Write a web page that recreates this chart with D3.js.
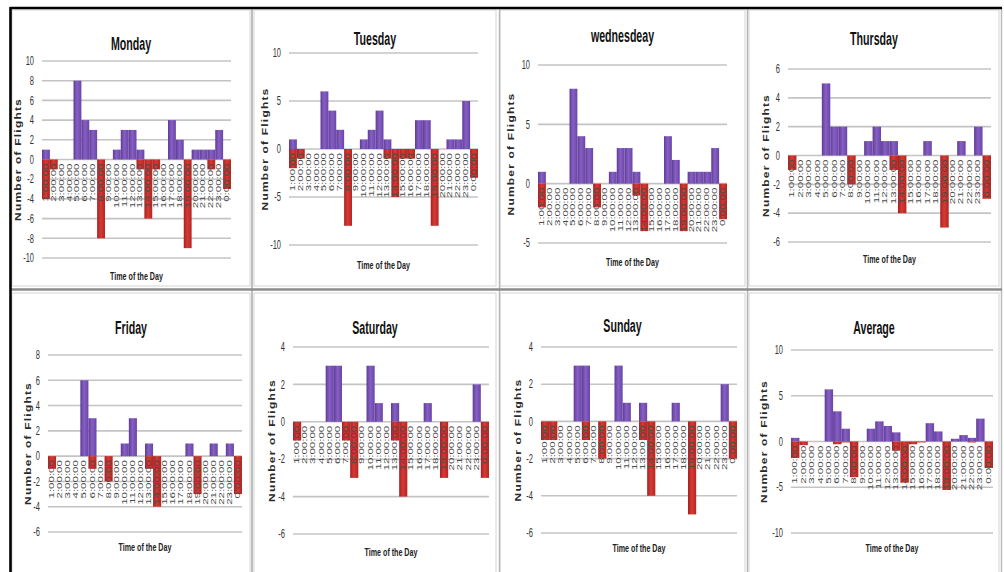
<!DOCTYPE html>
<html>
<head>
<meta charset="utf-8">
<script src="https://cdn.jsdelivr.net/npm/d3@7"></script>
<style>
body { margin: 0; background: #fff; }
svg text { font-family: "Liberation Sans", Arial, sans-serif; }
</style>
</head>
<body>
<svg id="chart" width="1004" height="572"></svg>
<script>
// hours of the day, as on the x axis
var hours = ["1:00:00", "2:00:00", "3:00:00", "4:00:00", "5:00:00", "6:00:00", "7:00:00", "8:00:00",
    "9:00:00", "10:00:00", "11:00:00", "12:00:00", "13:00:00", "14:00:00", "15:00:00", "16:00:00",
    "17:00:00", "18:00:00", "19:00:00", "20:00:00", "21:00:00", "22:00:00", "23:00:00", "0:00:00"];

var dayNames = ["Monday", "Tuesday", "wednesdeay", "Thursday", "Friday", "Saturday", "Sunday", "Average"];

// purple (positive) and red (negative) series per day
var mondayUp     = [1, 0, 0, 0, 8, 4, 3, 0, 0, 1, 3, 3, 1, 0, 0, 0, 4, 2, 0, 1, 1, 1, 3, 0];
var mondayDown   = [-4, -1, 0, 0, 0, 0, 0, -8, 0, 0, 0, 0, -1, -6, -1, 0, 0, 0, -9, 0, 0, -1, 0, -3];
var tuesdayUp    = [1, 0, 0, 0, 6, 4, 2, 0, 0, 1, 2, 4, 1, 0, 0, 0, 3, 3, 0, 0, 1, 1, 5, 0];
var tuesdayDown  = [-2, -1, 0, 0, 0, 0, 0, -8, 0, 0, 0, 0, -1, -5, -1, -1, 0, 0, -8, 0, 0, 0, 0, -3];
var wednesdayUp  = [1, 0, 0, 0, 8, 4, 3, 0, 0, 1, 3, 3, 1, 0, 0, 0, 4, 2, 0, 1, 1, 1, 3, 0];
var wednesdayDown = [-2, 0, 0, 0, 0, 0, 0, -2, 0, 0, 0, 0, -1, -4, 0, 0, 0, 0, -4, 0, 0, 0, 0, -3];
var thursdayUp   = [0, 0, 0, 0, 5, 2, 2, 0, 0, 1, 2, 1, 1, 0, 0, 0, 1, 0, 0, 0, 1, 0, 2, 0];
var thursdayDown = [-1, 0, 0, 0, 0, 0, 0, -2, 0, 0, 0, 0, -1, -4, 0, 0, 0, 0, -5, 0, 0, 0, 0, -3];
var fridayUp     = [0, 0, 0, 0, 6, 3, 0, 0, 0, 1, 3, 0, 1, 0, 0, 0, 0, 1, 0, 0, 1, 0, 1, 0];
var fridayDown   = [-1, 0, 0, 0, 0, -1, 0, -2, 0, 0, 0, 0, -1, -4, 0, 0, 0, 0, -3, 0, 0, 0, 0, -3];
var saturdayUp   = [0, 0, 0, 0, 3, 3, 0, 0, 0, 3, 1, 0, 1, 0, 0, 0, 1, 0, 0, 0, 0, 0, 2, 0];
var saturdayDown = [-1, 0, 0, 0, 0, 0, -1, -3, 0, 0, 0, 0, -1, -4, 0, 0, 0, 0, -3, 0, 0, 0, 0, -3];
var sundayUp     = [0, 0, 0, 0, 3, 3, 0, 0, 0, 3, 1, 0, 1, 0, 0, 0, 1, 0, 0, 0, 0, 0, 2, 0];
var sundayDown   = [-1, -1, 0, 0, 0, -1, 0, -2, 0, 0, 0, 0, -1, -4, 0, 0, 0, 0, -5, 0, 0, 0, 0, -2];
var averageUp    = [0.4, 0, 0, 0, 5.7, 3.3, 1.4, 0, 0, 1.4, 2.2, 1.7, 1, 0, 0, 0, 2, 1.1, 0, 0.3, 0.7, 0.4, 2.5, 0];
var averageDown  = [-1.8, -0.4, 0, 0, 0, -0.3, -0.1, -3.9, 0, 0, 0, 0, -1, -4.5, -0.3, -0.1, 0, 0, -5.3, 0, 0, -0.1, 0, -2.9];

// y tick labels per chart
var mondayTicks    = [-10, -8, -6, -4, -2, 0, 2, 4, 6, 8, 10];
var tuesdayTicks   = [-10, -5, 0, 5, 10];
var wednesdayTicks = [-5, 0, 5, 10];
var thursdayTicks  = [-6, -4, -2, 0, 2, 4, 6];
var fridayTicks    = [-6, -4, -2, 0, 2, 4, 6, 8];
var saturdayTicks  = [-6, -4, -2, 0, 2, 4];
var sundayTicks    = [-6, -4, -2, 0, 2, 4];
var averageTicks   = [-10, -5, 0, 5, 10];

var upSeries   = [mondayUp, tuesdayUp, wednesdayUp, thursdayUp, fridayUp, saturdayUp, sundayUp, averageUp];
var downSeries = [mondayDown, tuesdayDown, wednesdayDown, thursdayDown, fridayDown, saturdayDown, sundayDown, averageDown];
var tickSets   = [mondayTicks, tuesdayTicks, wednesdayTicks, thursdayTicks, fridayTicks, saturdayTicks, sundayTicks, averageTicks];

// where each small chart sits on the page
var boxes = [
    {cx0: 10,  cx1: 252,  x0: 42,  x1: 231, top: 61,  bottom: 258, titleY: 43,  xTitleY: 276, yTitleDx: 24},
    {cx0: 252, cx1: 498,  x0: 289, x1: 478, top: 53,  bottom: 245, titleY: 38,  xTitleY: 265, yTitleDx: 24},
    {cx0: 498, cx1: 747,  x0: 538, x1: 727, top: 65,  bottom: 243, titleY: 35,  xTitleY: 262, yTitleDx: 27},
    {cx0: 747, cx1: 1001, x0: 788, x1: 991, top: 69,  bottom: 242, titleY: 38,  xTitleY: 259, yTitleDx: 22},
    {cx0: 10,  cx1: 252,  x0: 48,  x1: 242, top: 355, bottom: 532, titleY: 327, xTitleY: 547, yTitleDx: 20},
    {cx0: 252, cx1: 498,  x0: 293, x1: 489, top: 347, bottom: 534, titleY: 327, xTitleY: 552, yTitleDx: 21},
    {cx0: 498, cx1: 747,  x0: 541, x1: 737, top: 347, bottom: 533, titleY: 325, xTitleY: 548, yTitleDx: 23},
    {cx0: 747, cx1: 1001, x0: 791, x1: 993, top: 350, bottom: 533, titleY: 327, xTitleY: 548, yTitleDx: 27}
];

var svg = d3.select("#chart");

var defs = svg.append("defs");
function addGrad(id, c0, c1, c2) {
    var g = defs.append("linearGradient").attr("id", id)
        .attr("x1", "0").attr("x2", "1").attr("y1", "0").attr("y2", "0");
    g.append("stop").attr("offset", "0%").attr("stop-color", c0);
    g.append("stop").attr("offset", "45%").attr("stop-color", c1);
    g.append("stop").attr("offset", "100%").attr("stop-color", c2);
}
addGrad("purpleGrad", "#5f3b98", "#8660c2", "#6a45a8");
addGrad("redGrad", "#a91f1f", "#d53b35", "#b52622");

svg.append("rect").attr("width", 1004).attr("height", 572).attr("fill", "#fff");

// chart area frames
boxes.forEach(function(b, i) {
    var row2 = i >= 4;
    svg.append("rect")
        .attr("x", b.cx0 + 2)
        .attr("y", row2 ? 293 : 10)
        .attr("width", b.cx1 - b.cx0 - 4)
        .attr("height", row2 ? 290 : 276)
        .attr("fill", "none")
        .attr("stroke", "#d4d4d4")
        .attr("stroke-width", 1);
});

boxes.forEach(function(b, i) {
    var up = upSeries[i], down = downSeries[i], ticks = tickSets[i];

    var x = d3.scaleBand().domain(hours).range([b.x0, b.x1]).padding(0);
    var y = d3.scaleLinear().domain(d3.extent(ticks)).range([b.bottom, b.top]);
    var g = svg.append("g");

    // gridlines
    g.selectAll(".grid")
        .data(ticks)
        .enter().append("line")
        .attr("x1", b.x0).attr("x2", b.x1)
        .attr("y1", function(d) { return y(d); })
        .attr("y2", function(d) { return y(d); })
        .attr("stroke", "#c4c4c4")
        .attr("stroke-width", 1.6);

    // y tick labels
    g.selectAll(".ytick")
        .data(ticks)
        .enter().append("text")
        .attr("transform", function(d) { return "translate(" + (b.x0 - 8) + "," + y(d) + ") scale(0.6,1)"; })
        .attr("text-anchor", "end")
        .attr("dominant-baseline", "central")
        .style("font-size", "12.5px")
        .attr("fill", "#333")
        .text(function(d) { return d; });

    // bars
    g.selectAll(".up")
        .data(up.map(function(v, k) { return {h: hours[k], v: v}; }).filter(function(d) { return d.v > 0; }))
        .enter().append("rect")
        .attr("x", function(d) { return x(d.h); })
        .attr("width", x.bandwidth())
        .attr("y", function(d) { return y(d.v); })
        .attr("height", function(d) { return y(0) - y(d.v); })
        .attr("fill", "url(#purpleGrad)");

    g.selectAll(".down")
        .data(down.map(function(v, k) { return {h: hours[k], v: v}; }).filter(function(d) { return d.v < 0; }))
        .enter().append("rect")
        .attr("x", function(d) { return x(d.h); })
        .attr("width", x.bandwidth())
        .attr("y", y(0))
        .attr("height", function(d) { return y(d.v) - y(0); })
        .attr("fill", "url(#redGrad)");

    // x tick labels, written upwards over the bars
    g.selectAll(".xtick")
        .data(hours)
        .enter().append("text")
        .attr("transform", function(d) {
            return "translate(" + (x(d) + x.bandwidth() / 2) + "," + (y(0) + 4) + ") rotate(-90) scale(1,0.55)";
        })
        .attr("text-anchor", "end")
        .attr("dominant-baseline", "central")
        .style("font-size", "11.5px")
        .attr("fill", "#4a4a4a")
        .text(function(d) { return d; });

    // titles
    g.append("text")
        .attr("transform", "translate(" + ((b.cx0 + b.cx1) / 2) + "," + b.titleY + ") scale(0.56,1)")
        .attr("text-anchor", "middle")
        .attr("dominant-baseline", "central")
        .style("font-size", "19px")
        .style("font-weight", "bold")
        .attr("fill", "#111")
        .text(dayNames[i]);

    g.append("text")
        .attr("transform", "translate(" + ((b.x0 + b.x1) / 2) + "," + b.xTitleY + ") scale(0.62,1)")
        .attr("text-anchor", "middle")
        .attr("dominant-baseline", "central")
        .style("font-size", "11.5px")
        .style("font-weight", "bold")
        .attr("fill", "#222")
        .text("Time of the Day");

    g.append("text")
        .attr("transform", "translate(" + (b.x0 - b.yTitleDx) + "," + ((b.top + b.bottom) / 2) + ") rotate(-90) scale(1,0.78)")
        .attr("text-anchor", "middle")
        .attr("dominant-baseline", "central")
        .style("font-size", "12px")
        .style("font-weight", "bold")
        .style("letter-spacing", "1.2px")
        .attr("fill", "#2a2a2a")
        .text("Number of Flights");
});

// page frame and cell dividers
svg.append("line").attr("x1", 252).attr("x2", 252).attr("y1", 8).attr("y2", 572)
    .attr("stroke", "#a8a8a8").attr("stroke-width", 1.5);
svg.append("line").attr("x1", 499.5).attr("x2", 499.5).attr("y1", 8).attr("y2", 572)
    .attr("stroke", "#b8b8b8").attr("stroke-width", 1.5);
svg.append("line").attr("x1", 747.5).attr("x2", 747.5).attr("y1", 8).attr("y2", 572)
    .attr("stroke", "#b8b8b8").attr("stroke-width", 1.5);
svg.append("line").attr("x1", 1001.5).attr("x2", 1001.5).attr("y1", 8).attr("y2", 572)
    .attr("stroke", "#bbbbbb").attr("stroke-width", 1.5);
svg.append("line").attr("x1", 10).attr("x2", 1002).attr("y1", 289.5).attr("y2", 289.5)
    .attr("stroke", "#8c8c8c").attr("stroke-width", 2.5);
svg.append("line").attr("x1", 10).attr("x2", 1002).attr("y1", 8).attr("y2", 8)
    .attr("stroke", "#000").attr("stroke-width", 2.6);
svg.append("line").attr("x1", 10.5).attr("x2", 10.5).attr("y1", 7).attr("y2", 572)
    .attr("stroke", "#000").attr("stroke-width", 2.6);
</script>
</body>
</html>
